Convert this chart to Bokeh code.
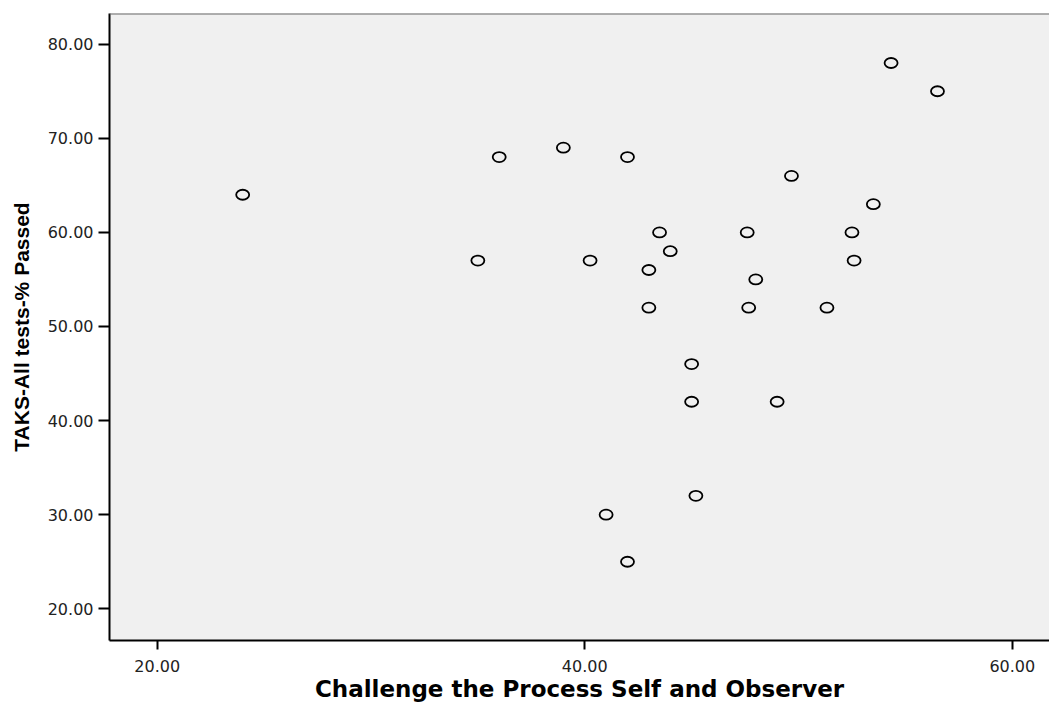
from bokeh.plotting import figure
from bokeh.models import Range1d, FixedTicker, PrintfTickFormatter, Span, ColumnDataSource
from bokeh.embed import file_html
from bokeh.resources import INLINE

# Challenge the Process Self and Observer (x) vs TAKS-All tests-% Passed (y)
challenge = [24.0, 35.0, 36.0, 39.0, 40.25, 42.0, 43.5, 44.0, 43.0, 43.0,
             45.0, 45.0, 45.2, 41.0, 42.0, 49.67, 53.5, 47.6, 52.5, 52.6,
             48.0, 47.67, 51.33, 49.0, 54.33, 56.5]
taks = [64, 57, 68, 69, 57, 68, 60, 58, 56, 52,
        46, 42, 32, 30, 25, 66, 63, 60, 60, 57,
        55, 52, 52, 42, 78, 75]
x_ticks = [20, 40, 60]
y_ticks = [20, 30, 40, 50, 60, 70, 80]

src = ColumnDataSource(data=dict(x=challenge, y=taks))

p = figure(width=1049, height=706, output_backend="svg", toolbar_location=None,
           x_range=Range1d(17.77, 61.74), y_range=Range1d(16.63, 83.26),
           min_border_left=109, min_border_top=13, min_border_right=0, min_border_bottom=66)

p.background_fill_color = "#f0f0f0"
p.border_fill_color = "white"
p.outline_line_color = None
p.xgrid.visible = False
p.ygrid.visible = False

p.ellipse(x="x", y="y", width=13, height=10, width_units="screen", height_units="screen",
          source=src, fill_color=None, line_color="black", line_width=1.8)

p.add_layout(Span(location=83.26, dimension="width", line_color="#666666", line_width=2))

for ax in (p.xaxis[0], p.yaxis[0]):
    ax.axis_line_color = "black"
    ax.axis_line_width = 2
    ax.major_tick_line_color = "black"
    ax.major_tick_line_width = 2
    ax.major_tick_in = 0
    ax.minor_tick_line_color = None
    ax.formatter = PrintfTickFormatter(format="%.2f")
    ax.major_label_text_font = "DejaVu Sans"
    ax.major_label_text_font_size = "16px"
    ax.major_label_text_color = "#222222"
    ax.axis_label_text_font_style = "bold"
    ax.axis_label_text_color = "black"

p.xaxis[0].axis_label_text_font = "DejaVu Sans"
p.xaxis[0].axis_label_text_font_size = "23px"
p.yaxis[0].axis_label_text_font = "Liberation Sans"
p.yaxis[0].axis_label_text_font_size = "21px"

p.xaxis[0].ticker = FixedTicker(ticks=x_ticks)
p.yaxis[0].ticker = FixedTicker(ticks=y_ticks)
p.xaxis[0].major_tick_out = 9
p.yaxis[0].major_tick_out = 11
p.xaxis[0].major_label_standoff = 10
p.yaxis[0].major_label_standoff = 5
p.xaxis[0].axis_label_standoff = 1
p.yaxis[0].axis_label_standoff = 12
p.xaxis[0].axis_label = "Challenge the Process Self and Observer"
p.yaxis[0].axis_label = "TAKS-All tests-% Passed"

open("out.html", "w").write(file_html(p, INLINE))
